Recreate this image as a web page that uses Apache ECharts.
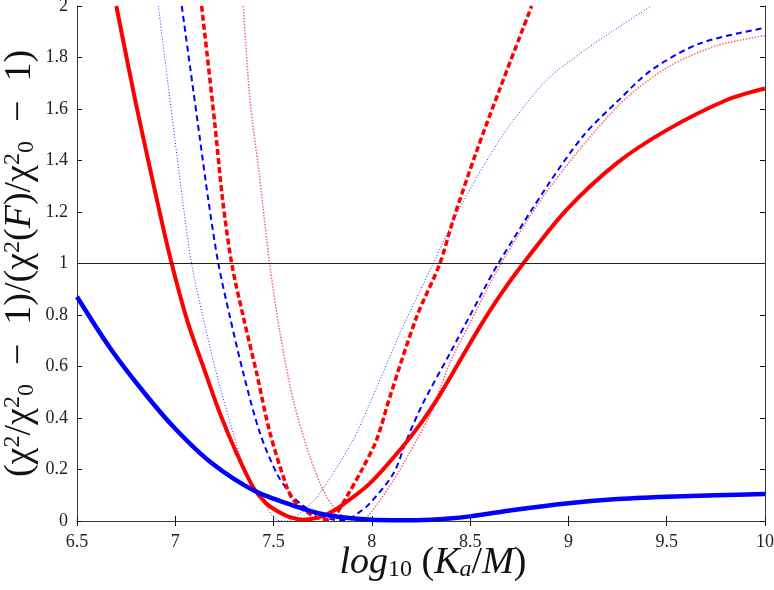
<!DOCTYPE html>
<html>
<head>
<meta charset="utf-8">
<script src="https://cdn.jsdelivr.net/npm/echarts@6/dist/echarts.min.js"></script>
<style>
  html, body { margin: 0; padding: 0; background: #fff; }
  #chart { width: 774px; height: 590px; }
</style>
</head>
<body>
<div id="chart"></div>
<script>
// x tick range
const xMin = 6.5, xMax = 10, xStep = 0.5;
const yMin = 0, yMax = 2, yStep = 0.2;

// thick solid blue
const blueSolidX = [6.5, 6.67, 6.84, 7.0, 7.18, 7.4, 7.6, 7.77, 7.94, 8.1, 8.3, 8.5, 8.72, 9.0, 9.23, 9.5, 9.75, 10];
const blueSolidY = [0.871, 0.67, 0.5, 0.358, 0.228, 0.118, 0.06, 0.023, 0.008, 0.003, 0.005, 0.018, 0.043, 0.069, 0.084, 0.094, 0.1, 0.105];

// thick solid red
const redSolidX = [6.7, 6.8, 6.9, 6.975, 7.06, 7.142, 7.227, 7.312, 7.397, 7.46, 7.516, 7.583, 7.65, 7.72, 7.77, 7.855, 7.99, 8.143, 8.25, 8.346, 8.45, 8.55, 8.66, 8.77, 8.99, 9.245, 9.5, 9.805, 10];
const redSolidY = [2.0, 1.62, 1.27, 1.02, 0.78, 0.6, 0.418, 0.263, 0.13, 0.07, 0.04, 0.015, 0.005, 0.012, 0.025, 0.065, 0.146, 0.276, 0.38, 0.49, 0.625, 0.755, 0.885, 1.0, 1.208, 1.389, 1.518, 1.635, 1.68];

// thin dotted blue
const blueDotX = [6.914, 7.037, 7.083, 7.16, 7.227, 7.295, 7.363, 7.465, 7.516, 7.566, 7.65, 7.736, 7.905, 7.99, 8.143, 8.312, 8.45, 8.65, 8.8, 8.906, 9.05, 9.2, 9.423];
const blueDotY = [2.0, 1.247, 1.0, 0.729, 0.522, 0.341, 0.185, 0.056, 0.004, 0.0, 0.04, 0.108, 0.315, 0.457, 0.729, 1.0, 1.22, 1.48, 1.635, 1.725, 1.81, 1.89, 2.0];

// dashed blue
const blueDashX = [7.033, 7.126, 7.168, 7.219, 7.278, 7.346, 7.431, 7.516, 7.583, 7.634, 7.72, 7.8, 7.86, 7.92, 7.99, 8.11, 8.177, 8.26, 8.397, 8.55, 8.643, 8.9, 9.08, 9.25, 9.42, 9.67, 10];
const blueDashY = [2.0, 1.48, 1.247, 1.0, 0.793, 0.574, 0.341, 0.185, 0.108, 0.069, 0.025, 0.006, 0.004, 0.025, 0.069, 0.185, 0.315, 0.457, 0.651, 0.871, 1.0, 1.31, 1.5, 1.63, 1.75, 1.855, 1.915];

// thick dashed red
const redDashX = [7.134, 7.2, 7.241, 7.287, 7.346, 7.414, 7.482, 7.567, 7.6, 7.68, 7.736, 7.78, 7.82, 7.872, 7.95, 8.024, 8.092, 8.228, 8.346, 8.414, 8.53, 8.652, 8.813];
const redDashY = [2.0, 1.55, 1.247, 1.0, 0.793, 0.574, 0.341, 0.133, 0.082, 0.03, 0.01, 0.005, 0.03, 0.094, 0.2, 0.315, 0.483, 0.793, 1.0, 1.17, 1.43, 1.68, 2.0];

// pale dotted red
const redDotX = [7.346, 7.38, 7.425, 7.48, 7.533, 7.6, 7.685, 7.77, 7.855, 7.92, 7.98, 8.11, 8.228, 8.3, 8.4, 8.5, 8.65, 8.9, 9.25, 9.5, 9.75, 10];
const redDotY = [2.0, 1.635, 1.36, 1.0, 0.729, 0.47, 0.25, 0.094, 0.017, 0.002, 0.02, 0.159, 0.315, 0.42, 0.62, 0.77, 0.99, 1.29, 1.61, 1.76, 1.845, 1.885];

const refLevel = 1;

const serif = "'Liberation Serif', 'DejaVu Serif', serif";

const pairs = (xs, ys) => xs.map((x, i) => [x, ys[i]]);

const makeLine = (xs, ys, color, width, type) => ({
  type: "line",
  data: pairs(xs, ys),
  showSymbol: false,
  smooth: 0.3,
  clip: true,
  lineStyle: { color: color, width: width, type: type },
  z: 3,
});

const axisColor = "#3a3a3a";

const option = {
  animation: false,
  backgroundColor: "#fff",
  grid: { left: 77, right: 9, top: 6, bottom: 69, containLabel: false, outerBoundsMode: "none" },
  xAxis: [
    {
      type: "value",
      min: xMin,
      max: xMax,
      interval: xStep,
      splitLine: { show: false },
      axisLine: { lineStyle: { color: axisColor } },
      axisTick: { inside: true, length: 5, lineStyle: { color: "#111" } },
      axisLabel: {
        margin: 12,
        color: "#222",
        fontFamily: serif,
        fontSize: 18,
        formatter: (v) => String(+v.toFixed(1)),
      },
      name:
        "{i|log}{s|10}{n| (}{i|K}{si|a}{n|/}{i|M}{n|)}",
      nameLocation: "middle",
      nameGap: 23,
      nameMoveOverlap: false,
      nameTextStyle: {
        padding: [0, 0, 0, 24],
        rich: {
          i: { fontFamily: serif, fontStyle: "italic", fontSize: 38, color: "#111" },
          n: { fontFamily: serif, fontSize: 38, color: "#111" },
          s: { fontFamily: serif, fontSize: 24, color: "#111", verticalAlign: "bottom" },
          si: { fontFamily: serif, fontStyle: "italic", fontSize: 24, color: "#111", verticalAlign: "bottom" },
        },
      },
    },
    {
      type: "value",
      position: "top",
      min: xMin,
      max: xMax,
      interval: xStep,
      splitLine: { show: false },
      axisLine: { lineStyle: { color: axisColor } },
      axisTick: { inside: true, length: 5, lineStyle: { color: "#111" } },
      axisLabel: { show: false },
    },
  ],
  yAxis: [
    {
      type: "value",
      min: yMin,
      max: yMax,
      interval: yStep,
      splitLine: { show: false },
      axisLine: { lineStyle: { color: axisColor } },
      axisTick: { inside: true, length: 5, lineStyle: { color: "#111" } },
      axisLabel: {
        margin: 9,
        color: "#222",
        fontFamily: serif,
        fontSize: 18,
        formatter: (v) => String(+v.toFixed(1)),
      },
      name:
        "{n|(χ}{p|2}{n|/χ}{p|2}{b|0}{n|  −  1)/(χ}{p|2}{n|(}{i|F}{n|)/χ}{p|2}{b|0}{n|  −  1)}",
      nameLocation: "middle",
      nameGap: 38,
      nameMoveOverlap: false,
      nameTextStyle: {
        rich: {
          n: { fontFamily: serif, fontSize: 38, color: "#111" },
          i: { fontFamily: serif, fontStyle: "italic", fontSize: 38, color: "#111" },
          p: { fontFamily: serif, fontSize: 24, color: "#111", verticalAlign: "top" },
          b: { fontFamily: serif, fontSize: 24, color: "#111", verticalAlign: "bottom" },
        },
      },
    },
    {
      type: "value",
      position: "right",
      min: yMin,
      max: yMax,
      interval: yStep,
      splitLine: { show: false },
      axisLine: { lineStyle: { color: axisColor } },
      axisTick: { inside: true, length: 5, lineStyle: { color: "#111" } },
      axisLabel: { show: false },
    },
  ],
  series: [
    {
      type: "line",
      data: [],
      markLine: {
        silent: true,
        symbol: "none",
        label: { show: false },
        lineStyle: { color: "#222", width: 1, type: "solid" },
        data: [{ yAxis: refLevel }],
      },
    },
    makeLine(redDotX, redDotY, "#f26a6a", 1.5, [1.5, 1.5]),
    makeLine(blueDotX, blueDotY, "#2a2aff", 1, [1, 2]),
    makeLine(blueDashX, blueDashY, "#0000ff", 2, [6, 4]),
    makeLine(redDashX, redDashY, "#ff0000", 3.5, [6, 3]),
    makeLine(redSolidX, redSolidY, "#ff0000", 4, "solid"),
    makeLine(blueSolidX, blueSolidY, "#0000ff", 4.5, "solid"),
  ],
};

const chart = echarts.init(document.getElementById("chart"));
chart.setOption(option);
</script>
</body>
</html>
